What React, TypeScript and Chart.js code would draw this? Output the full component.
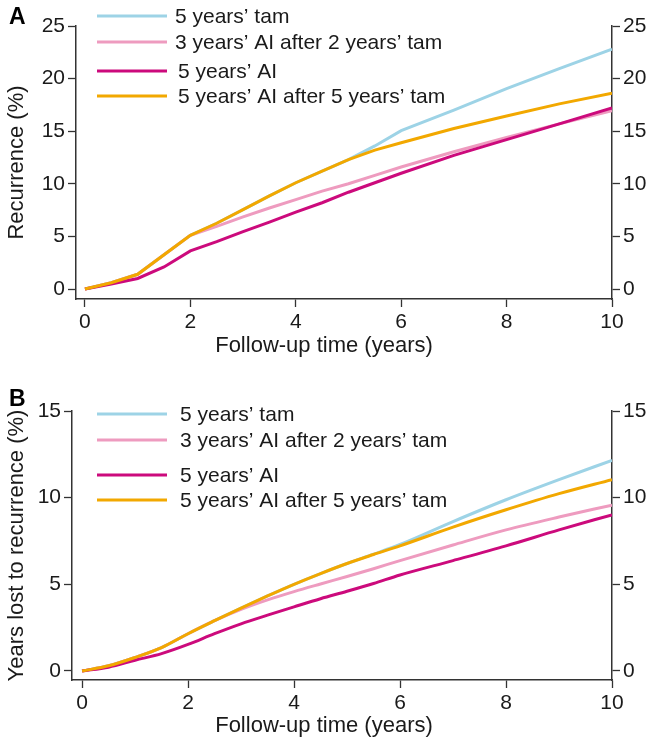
import React, { useEffect, useRef } from "react";
import { Chart, registerables } from "chart.js";

Chart.register(...registerables);

// ---- data ----
const years = [0, 0.5, 1, 1.5, 2, 2.5, 3, 3.5, 4, 4.5, 5, 5.5, 6, 7, 8, 9, 10];
const seriesLabels = [
  "5 years’ tam",
  "3 years’ AI after 2 years’ tam",
  "5 years’ AI",
  "5 years’ AI after 5 years’ tam",
];

// Panel A: recurrence (%)
const recTam5 = [0, 0.6, 1.4, 3.25, 5.1, 6.25, 7.55, 8.85, 10.1, 11.2, 12.3, 13.6, 15.05, 17.0, 19.05, 20.95, 22.8];
const recAI3after2 = [0, 0.6, 1.4, 3.25, 5.1, 5.95, 6.85, 7.7, 8.5, 9.3, 10.0, 10.8, 11.6, 13.05, 14.4, 15.7, 16.95];
const recAI5 = [0, 0.48, 1.0, 2.1, 3.62, 4.5, 5.45, 6.35, 7.3, 8.2, 9.2, 10.1, 11.0, 12.7, 14.2, 15.7, 17.2];
const recAI5after5 = [0, 0.6, 1.4, 3.25, 5.1, 6.25, 7.55, 8.85, 10.1, 11.2, 12.3, 13.2, 13.9, 15.25, 16.45, 17.6, 18.6];

// Panel B: years lost to recurrence (%)
const lostTam5 = [0, 0.3, 0.78, 1.35, 2.15, 2.9, 3.63, 4.33, 5.0, 5.62, 6.2, 6.74, 7.3, 8.62, 9.88, 11.04, 12.15];
const lostAI3after2 = [0, 0.3, 0.78, 1.35, 2.15, 2.9, 3.55, 4.1, 4.58, 5.02, 5.45, 5.9, 6.37, 7.27, 8.14, 8.88, 9.57];
const lostAI5 = [0, 0.22, 0.62, 1.0, 1.53, 2.15, 2.72, 3.22, 3.7, 4.17, 4.6, 5.05, 5.54, 6.37, 7.22, 8.14, 9.01];
const lostAI5after5 = [0, 0.3, 0.78, 1.35, 2.15, 2.9, 3.63, 4.33, 5.0, 5.62, 6.2, 6.72, 7.22, 8.3, 9.3, 10.23, 11.04];

const xTicks = [0, 2, 4, 6, 8, 10];
const yTicksA = [0, 5, 10, 15, 20, 25];
const yTicksB = [0, 5, 10, 15];
const xTitle = "Follow-up time (years)";

// ---- styles ----
const COLORS = ["#9dd3e6", "#ee9bbf", "#cc0a7c", "#f2a800"];
const DRAW_ORDER = [3, 2, 1, 0];
const FONT = '"Liberation Sans", Arial, Helvetica, sans-serif';
const INK = "#1a1a1a";
const AXIS = "#333333";

type PanelCfg = {
  letter: string;
  letterY: number;
  legendYs: number[];
  legendTextX: number[];
  height: number;
  padTop: number;
  xAxisHeight: number;
  yLeftWidth: number;
  xMin: number;
  yMin: number;
  yMax: number;
  yTicks: number[];
  yTitle: string;
  xTitleY: number;
  smooth: boolean;
  series: number[][];
};

function overlayPlugin(cfg: PanelCfg) {
  return {
    id: "overlay" + cfg.letter,
    afterDraw(chart: any) {
      const ctx = chart.ctx as CanvasRenderingContext2D;
      ctx.save();
      ctx.fillStyle = "#000";
      ctx.textBaseline = "middle";
      ctx.textAlign = "left";
      ctx.font = `bold 23px ${FONT}`;
      ctx.fillText(cfg.letter, 9, cfg.letterY);
      ctx.font = `21px ${FONT}`;
      chart.data.datasets.forEach((ds: any, i: number) => {
        const y = cfg.legendYs[i];
        ctx.strokeStyle = ds.borderColor;
        ctx.lineWidth = 3;
        ctx.beginPath();
        ctx.moveTo(97, y);
        ctx.lineTo(167, y);
        ctx.stroke();
        ctx.fillStyle = INK;
        ctx.fillText(ds.label, cfg.legendTextX[i], y + 1);
      });
      // x-axis title (offset left of the axis centre, as in the reference)
      ctx.font = `22px ${FONT}`;
      ctx.textAlign = "center";
      ctx.fillStyle = INK;
      ctx.fillText(xTitle, 324, cfg.xTitleY);
      ctx.restore();
    },
  };
}

function yAxis(cfg: PanelCfg, position: "left" | "right", width: number, withTitle: boolean) {
  return {
    type: "linear",
    position,
    min: cfg.yMin,
    max: cfg.yMax,
    afterBuildTicks: (scale: any) => {
      scale.ticks = cfg.yTicks.map((v) => ({ value: v }));
    },
    afterFit: (scale: any) => {
      scale.width = width;
    },
    grid: {
      display: true,
      drawOnChartArea: false,
      drawTicks: true,
      tickLength: 8,
      tickWidth: 1.3,
      tickColor: AXIS,
    },
    border: { display: true, color: AXIS, width: 1.5 },
    ticks: {
      autoSkip: false,
      padding: 3,
      color: INK,
      font: { family: FONT, size: 21 },
    },
    title: {
      display: withTitle,
      text: cfg.yTitle,
      color: INK,
      font: { family: FONT, size: 22 },
      padding: { top: 4, bottom: 0 },
    },
  };
}

function Panel({ cfg }: { cfg: PanelCfg }) {
  const ref = useRef<HTMLCanvasElement | null>(null);
  useEffect(() => {
    if (!ref.current) return;
    const datasets = seriesLabels.map((label, i) => ({
      label,
      data: years.map((t, k) => ({ x: t, y: cfg.series[i][k] })),
      borderColor: COLORS[i],
      backgroundColor: COLORS[i],
      borderWidth: 3,
      pointRadius: 0,
      fill: false,
      order: DRAW_ORDER[i],
      cubicInterpolationMode: cfg.smooth ? "monotone" : "default",
      tension: 0,
    }));
    const chart = new Chart(ref.current, {
      type: "line",
      data: { datasets } as any,
      options: {
        responsive: false,
        animation: false,
        devicePixelRatio: 1,
        layout: { padding: { top: cfg.padTop, left: 0, right: 0, bottom: 0 } },
        plugins: {
          legend: { display: false },
          tooltip: { enabled: false },
          title: { display: false },
        },
        scales: {
          x: {
            type: "linear",
            min: cfg.xMin,
            max: 10,
            afterBuildTicks: (scale: any) => {
              scale.ticks = xTicks.map((v) => ({ value: v }));
            },
            afterFit: (scale: any) => {
              scale.height = cfg.xAxisHeight;
            },
            grid: {
              display: true,
              drawOnChartArea: false,
              drawTicks: true,
              tickLength: 8,
              tickWidth: 1.3,
              tickColor: AXIS,
            },
            border: { display: true, color: AXIS, width: 1.5 },
            ticks: {
              autoSkip: false,
              maxRotation: 0,
              padding: 3,
              color: INK,
              font: { family: FONT, size: 21 },
            },
            title: { display: false },
          },
          y: yAxis(cfg, "left", cfg.yLeftWidth, true),
          y2: yAxis(cfg, "right", 35, false),
        } as any,
      },
      plugins: [overlayPlugin(cfg)],
    } as any);
    return () => chart.destroy();
  }, [cfg]);
  return (
    <canvas
      ref={ref}
      width={647}
      height={cfg.height}
      style={{ display: "block", width: 647, height: cfg.height }}
    />
  );
}

const panelA: PanelCfg = {
  letter: "A",
  letterY: 18,
  legendYs: [16, 42, 71, 96],
  legendTextX: [175, 175, 178, 178],
  height: 370,
  padTop: 26,
  xAxisHeight: 71,
  yLeftWidth: 76,
  xMin: -0.17,
  yMin: -0.95,
  yMax: 25,
  yTicks: yTicksA,
  yTitle: "Recurrence (%)",
  xTitleY: 346,
  smooth: false,
  series: [recTam5, recAI3after2, recAI5, recAI5after5],
};

const panelB: PanelCfg = {
  letter: "B",
  letterY: 30,
  legendYs: [44, 70, 105, 130],
  legendTextX: [180, 180, 180, 180],
  height: 371,
  padTop: 41,
  xAxisHeight: 61,
  yLeftWidth: 72,
  xMin: -0.19,
  yMin: -0.52,
  yMax: 15,
  yTicks: yTicksB,
  yTitle: "Years lost to recurrence (%)",
  xTitleY: 356,
  smooth: true,
  series: [lostTam5, lostAI3after2, lostAI5, lostAI5after5],
};

export default function App() {
  return (
    <div
      style={{
        position: "absolute",
        left: 0,
        top: 0,
        width: 647,
        height: 741,
        background: "#ffffff",
        overflow: "hidden",
      }}
    >
      <Panel cfg={panelA} />
      <Panel cfg={panelB} />
    </div>
  );
}
